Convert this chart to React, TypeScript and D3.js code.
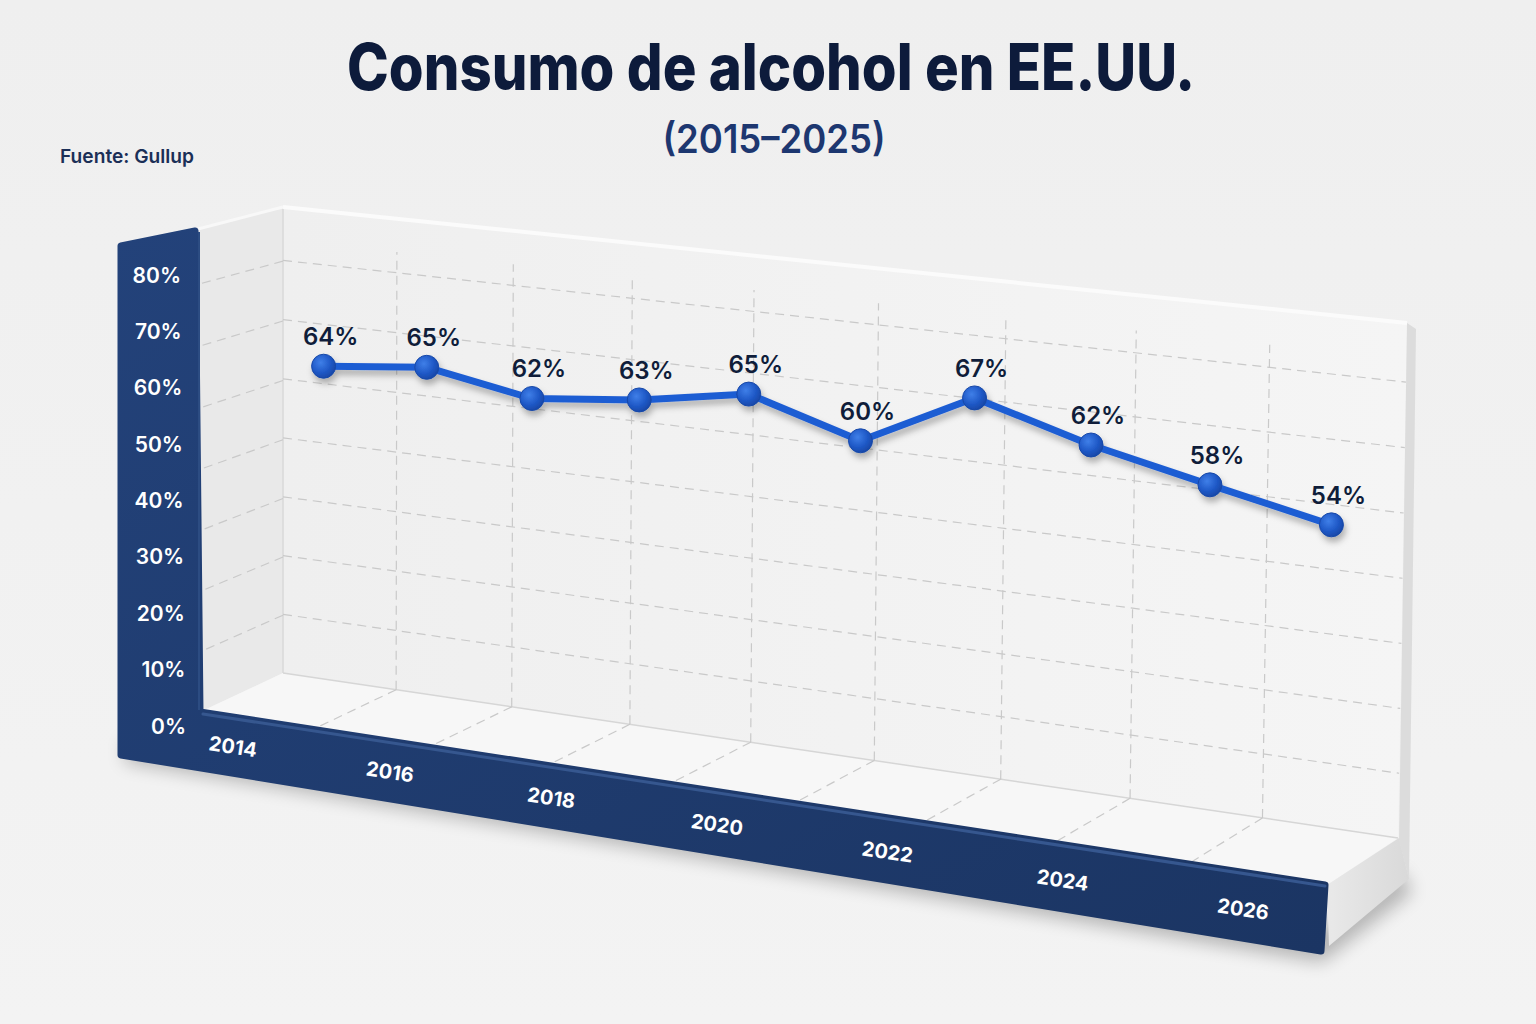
// App.tsx
// Pseudo-3D line chart: alcohol consumption in the US (Gallup)
import React from "react";
import * as d3 from "d3";

const years = ["2015", "2016", "2017", "2018", "2019", "2021", "2022", "2023", "2024", "2025"];
const consumption = [64, 65, 62, 63, 65, 60, 67, 62, 58, 54];
const yTicks = [0, 10, 20, 30, 40, 50, 60, 70, 80];
const xTicks = [2014, 2016, 2018, 2020, 2022, 2024, 2026];
const wallGrid = [10, 20, 30, 40, 50, 60, 70];

type P = [number, number];

// projective map of the unit square onto a quad: p0=(0,0) p1=(1,0) p2=(1,1) p3=(0,1)
function quadMap(p0: P, p1: P, p2: P, p3: P) {
  const dx1 = p1[0] - p2[0], dx2 = p3[0] - p2[0], dx3 = p0[0] - p1[0] + p2[0] - p3[0];
  const dy1 = p1[1] - p2[1], dy2 = p3[1] - p2[1], dy3 = p0[1] - p1[1] + p2[1] - p3[1];
  const den = dx1 * dy2 - dx2 * dy1;
  const g = (dx3 * dy2 - dx2 * dy3) / den;
  const h = (dx1 * dy3 - dx3 * dy1) / den;
  const a = p1[0] - p0[0] + g * p1[0], b = p3[0] - p0[0] + h * p3[0], c = p0[0];
  const d = p1[1] - p0[1] + g * p1[1], e = p3[1] - p0[1] + h * p3[1], f = p0[1];
  return (u: number, v: number): P => {
    const w = g * u + h * v + 1;
    return [(a * u + b * v + c) / w, (d * u + e * v + f) / w];
  };
}

const poly = (pts: P[]) => "M" + pts.map((p) => p.join(",")).join("L") + "Z";
const seg = (a: P, b: P) => `M${a[0]},${a[1]}L${b[0]},${b[1]}`;

const FONT = "Inter, 'Noto Sans', sans-serif";

export default function App() {
  const W = 1536, H = 1024;

  // faces of the box
  const wallQ: P[] = [[283, 673], [1398, 838], [1407, 323], [283, 207]];
  const sideQ: P[] = [[283, 673], [200, 712], [198, 228], [283, 207]];
  const floorQ: P[] = [[283, 673], [1398, 838], [1327, 885], [200, 712]];
  const wall = quadMap(wallQ[0], wallQ[1], wallQ[2], wallQ[3]);
  const side = quadMap(sideQ[0], sideQ[1], sideQ[2], sideQ[3]);
  const floor = quadMap(floorQ[0], floorQ[1], floorQ[2], floorQ[3]);
  const wallV = d3.scaleLinear().domain([0, 79]).range([0, 1]);
  const cols = d3.range(1, 9).map((k) => k / 9);

  // data plane
  const xU = d3.scalePoint<string>().domain(years).range([0.04, 0.942]);
  const yVal = d3.scaleLinear().domain([62, 72]).range([422, 347.2]);
  const tilt = d3.scaleLinear().domain([814.5, 1329]).range([0, 42.8]);
  const pts = years.map((yr, i) => {
    const x = wall(xU(yr)!, 0.55)[0];
    return { yr, v: consumption[i], x, y: yVal(consumption[i]) + tilt(x) };
  });
  const line = d3.line<{ x: number; y: number }>().x((d) => d.x).y((d) => d.y);

  // left axis on the navy panel
  const yAxis = d3.scaleLinear().domain([0, 80]).range([726, 275]);
  const yAxisX = d3.scaleLinear().domain([0, 80]).range([186, 181]);

  // year labels on the base front, with perspective
  const baseU = d3.scaleLinear().domain([2014, 2026]).range([0, 1]);
  const VP = -11400;
  const baseX = (u: number) => VP + 1 / ((1 - u) / (233 - VP) + u / (1243 - VP));
  const baseY = (x: number) => ((712 + 0.1533 * (x - 200)) + (757 + 0.1685 * (x - 118))) / 2;

  const navyPath = poly([
    [121, 246], [195, 231], [200, 712], [1325, 885], [1321, 951], [121, 755],
  ]);

  return (
    <svg width={W} height={H} style={{ position: "absolute", left: 0, top: 0, display: "block" }} fontFamily={FONT}>
      <defs>
        <linearGradient id="bg" x1="0" y1="0" x2="0" y2="1">
          <stop offset="0" stopColor="#efefef" />
          <stop offset="1" stopColor="#f3f3f3" />
        </linearGradient>
        <linearGradient id="wallG" x1="0" y1="0" x2="1" y2="0">
          <stop offset="0" stopColor="#efefef" />
          <stop offset="1" stopColor="#f5f5f5" />
        </linearGradient>
        <linearGradient id="navyG" x1="0" y1="0" x2="1" y2="1">
          <stop offset="0" stopColor="#23427a" />
          <stop offset="1" stopColor="#1b3563" />
        </linearGradient>
        <linearGradient id="sideG" x1="0" y1="0" x2="1" y2="0">
          <stop offset="0" stopColor="#e9e9e9" />
          <stop offset="1" stopColor="#d9d9d9" />
        </linearGradient>
        <radialGradient id="dotG" cx="0.38" cy="0.35" r="0.7">
          <stop offset="0" stopColor="#3f7fe8" />
          <stop offset="0.6" stopColor="#1f58c6" />
          <stop offset="1" stopColor="#1746a4" />
        </radialGradient>
        <filter id="blur" x="-20%" y="-20%" width="140%" height="140%">
          <feGaussianBlur stdDeviation="9" />
        </filter>
        <filter id="lineShadow" x="-10%" y="-30%" width="120%" height="160%">
          <feDropShadow dx="2" dy="5" stdDeviation="3" floodColor="#000" floodOpacity="0.28" />
        </filter>
      </defs>

      <rect width={W} height={H} fill="url(#bg)" />

      {/* cast shadow */}
      <path d={poly([[125, 762], [1322, 962], [1412, 892], [1400, 870], [1320, 930], [125, 740]])}
        fill="#000" opacity={0.26} filter="url(#blur)" />

      {/* faces */}
      <path d={poly(wallQ)} fill="url(#wallG)" />
      <path d={poly(sideQ)} fill="#e9e9e9" />
      <path d={poly(floorQ)} fill="#f7f7f7" />
      <path d={seg([283, 207], [283, 673])} stroke="#d9d9d9" strokeWidth={1.5} />
      <path d={seg([283, 673], [1398, 838])} stroke="#d6d6d6" strokeWidth={1.5} />
      <path d={seg([283, 207], [1407, 323])} stroke="#fbfbfb" strokeWidth={4} />
      <path d={seg([198, 229], [283, 207])} stroke="#f8f8f8" strokeWidth={3} />

      {/* right thickness of the wall and slab */}
      <path d={poly([[1407, 323], [1416, 329], [1409, 879], [1399, 840]])} fill="#dcdcdc" />
      <path d={poly([[1327, 885], [1399, 838], [1409, 879], [1329, 946]])} fill="url(#sideG)" />

      {/* grid */}
      <g stroke="#c9c9c9" strokeWidth={1.2} strokeDasharray="9 6" fill="none">
        {wallGrid.map((g) => (
          <path key={"h" + g} d={seg(wall(0, wallV(g)), wall(1, wallV(g)))} />
        ))}
        {wallGrid.map((g) => (
          <path key={"s" + g} d={seg(side(0, wallV(g)), side(1, wallV(g)))} />
        ))}
        {cols.map((u) => (
          <path key={"v" + u} d={seg(wall(u, 0), wall(u, 0.93))} />
        ))}
        {cols.map((u) => (
          <path key={"f" + u} d={seg(wall(u, 0), floor(u, 1))} />
        ))}
      </g>

      {/* navy L-frame */}
      <path d={navyPath} fill="url(#navyG)" stroke="url(#navyG)" strokeWidth={7} strokeLinejoin="round" />
      <path d={seg([203, 714], [1325, 886])} stroke="#36578f" strokeWidth={3} strokeLinecap="round" />
      <path d={seg([199, 232], [199, 710])} stroke="#2c4c82" strokeWidth={2} />

      {/* left axis */}
      <g fill="#ffffff" fontSize={21} fontWeight={600} textAnchor="end">
        {yTicks.map((t) => (
          <text key={t} x={yAxisX(t)} y={yAxis(t)} dominantBaseline="central">{t}%</text>
        ))}
      </g>

      {/* year labels */}
      <g fill="#ffffff" fontSize={20} fontWeight={700} textAnchor="middle">
        {xTicks.map((t) => {
          const x = baseX(baseU(t));
          const y = baseY(x);
          return (
            <text key={t} transform={`translate(${x},${y}) rotate(8.5)`} dominantBaseline="central">{t}</text>
          );
        })}
      </g>

      {/* series */}
      <g filter="url(#lineShadow)">
        <path d={line(pts) ?? ""} fill="none" stroke="#1f5dd3" strokeWidth={7} strokeLinejoin="round" strokeLinecap="round" />
        {pts.map((p) => (
          <circle key={p.yr} cx={p.x} cy={p.y} r={12} fill="url(#dotG)" stroke="#1848a8" strokeWidth={1} />
        ))}
      </g>
      <g fill="#0f1d3a" fontSize={24} fontWeight={600} textAnchor="middle">
        {pts.map((p) => (
          <text key={p.yr} x={p.x + 7} y={p.y - 21}>{p.v}%</text>
        ))}
      </g>

      {/* titles */}
      <text x={771} y={90} textAnchor="middle" fontSize={64} fontWeight={800} fill="#0d1b3b"
        textLength={848} lengthAdjust="spacingAndGlyphs">Consumo de alcohol en EE.UU.</text>
      <text x={774} y={153} textAnchor="middle" fontSize={40} fontWeight={600} fill="#1d3770"
        textLength={223} lengthAdjust="spacingAndGlyphs">(2015–2025)</text>
      <text x={60} y={163} fontSize={19} fontWeight={600} fill="#1b2f57"
        textLength={134} lengthAdjust="spacingAndGlyphs">Fuente: Gullup</text>
    </svg>
  );
}
